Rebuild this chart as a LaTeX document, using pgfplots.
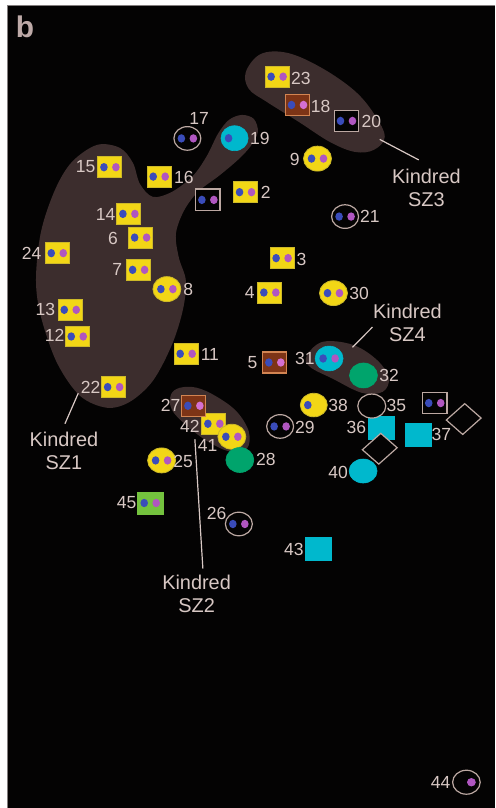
\documentclass[border=0pt]{standalone}
\usepackage{pgfplots}
\pgfplotsset{compat=1.18}
\usepackage{pgfplotstable}
\usepackage{fontspec}
\setmainfont{Liberation Sans}
\definecolor{bgk}{RGB}{4,3,3}
\definecolor{blob}{RGB}{60,45,45}
\definecolor{labc}{RGB}{216,200,196}
\definecolor{bcol}{RGB}{190,170,168}
\definecolor{yfill}{RGB}{242,214,22}
\definecolor{yborder}{RGB}{205,185,40}
\definecolor{dblue}{RGB}{58,76,186}
\definecolor{dpurple}{RGB}{176,86,192}
\definecolor{dpink}{RGB}{212,112,210}
\definecolor{brfill}{RGB}{125,52,22}
\definecolor{brborder}{RGB}{210,132,82}
\definecolor{cyanc}{RGB}{0,184,205}
\definecolor{greenc}{RGB}{0,164,108}
\definecolor{lgreen}{RGB}{116,194,62}
\definecolor{grayo}{RGB}{188,168,162}
\definecolor{framec}{RGB}{130,125,125}

\newcommand\dotpair[1]{%
 \pgfpathellipse{\pgfpoint{-3bp}{0bp}}{\pgfpoint{1.9bp}{0bp}}{\pgfpoint{0bp}{2.1bp}}%
 \pgfsetfillcolor{dblue}\pgfusepath{fill}%
 \pgfpathellipse{\pgfpoint{3bp}{0bp}}{\pgfpoint{1.9bp}{0bp}}{\pgfpoint{0bp}{2.1bp}}%
 \pgfsetfillcolor{#1}\pgfusepath{fill}}
\newcommand\rectmark[5]{% half-w, half-h, fill, stroke, linewidth
 \pgfsetlinewidth{#5}\pgfsetstrokecolor{#4}\pgfsetfillcolor{#3}%
 \pgfpathrectanglecorners{\pgfpoint{-#1}{-#2}}{\pgfpoint{#1}{#2}}%
 \pgfusepath{fill,stroke}}
\newcommand\ellmark[5]{%
 \pgfsetlinewidth{#5}\pgfsetstrokecolor{#4}\pgfsetfillcolor{#3}%
 \pgfpathellipse{\pgfpointorigin}{\pgfpoint{#1}{0bp}}{\pgfpoint{0bp}{#2}}%
 \pgfusepath{fill,stroke}}

\pgfdeclareplotmark{ysq}{\rectmark{6bp}{5.25bp}{yfill}{yborder}{0.5bp}\dotpair{dpurple}}
\pgfdeclareplotmark{yel}{\ellmark{7bp}{6.25bp}{yfill}{yborder}{0.4bp}\dotpair{dpurple}}
\pgfdeclareplotmark{yelone}{\ellmark{6.75bp}{5.9bp}{yfill}{yborder}{0.4bp}%
 \pgfpathellipse{\pgfpoint{-3bp}{0bp}}{\pgfpoint{1.9bp}{0bp}}{\pgfpoint{0bp}{2.1bp}}%
 \pgfsetfillcolor{dblue}\pgfusepath{fill}}
\pgfdeclareplotmark{brsq}{\rectmark{6bp}{5.25bp}{brfill}{brborder}{0.6bp}\dotpair{dpink}}
\pgfdeclareplotmark{bksq}{\rectmark{6.1bp}{5.4bp}{bgk}{grayo}{0.6bp}\dotpair{dpurple}}
\pgfdeclareplotmark{gel}{\ellmark{6.75bp}{5.9bp}{bgk}{grayo}{0.6bp}\dotpair{dpurple}}
\pgfdeclareplotmark{gelone}{\ellmark{6.9bp}{6bp}{bgk}{grayo}{0.6bp}%
 \pgfpathellipse{\pgfpoint{2.5bp}{0bp}}{\pgfpoint{2.2bp}{0bp}}{\pgfpoint{0bp}{2.1bp}}%
 \pgfsetfillcolor{dpurple}\pgfusepath{fill}}
\pgfdeclareplotmark{cyone}{\ellmark{6.8bp}{6.25bp}{cyanc}{cyanc}{0.3bp}%
 \pgfpathellipse{\pgfpoint{-3bp}{0bp}}{\pgfpoint{1.9bp}{0bp}}{\pgfpoint{0bp}{2.1bp}}%
 \pgfsetfillcolor{dblue}\pgfusepath{fill}}
\pgfdeclareplotmark{cytwo}{\ellmark{7bp}{6.2bp}{cyanc}{cyanc}{0.3bp}\dotpair{dpurple}}
\pgfdeclareplotmark{cyel}{\ellmark{7bp}{6bp}{cyanc}{cyanc}{0.3bp}}
\pgfdeclareplotmark{grel}{\ellmark{7bp}{6.25bp}{greenc}{greenc}{0.3bp}}
\pgfdeclareplotmark{cysq}{\rectmark{6.5bp}{5.75bp}{cyanc}{cyanc}{0.3bp}}
\pgfdeclareplotmark{bkel}{\ellmark{7bp}{6bp}{bgk}{grayo}{0.6bp}}
\pgfdeclareplotmark{grsq}{\rectmark{6.5bp}{5.5bp}{lgreen}{lgreen}{0.3bp}\dotpair{dpurple}}
\pgfdeclareplotmark{diam}{%
 \pgfsetlinewidth{0.6bp}\pgfsetstrokecolor{grayo}\pgfsetfillcolor{bgk}%
 \pgfpathmoveto{\pgfpoint{0.5bp}{7.7bp}}\pgfpathlineto{\pgfpoint{8.7bp}{0.5bp}}%
 \pgfpathlineto{\pgfpoint{-0.5bp}{-7.7bp}}\pgfpathlineto{\pgfpoint{-8.7bp}{-0.5bp}}%
 \pgfpathclose\pgfusepath{fill,stroke}}

\begin{document}
\begin{tikzpicture}
\begin{axis}[hide axis, scale only axis, x=0.5bp, y=0.5bp,
  xmin=0, xmax=495, ymin=0, ymax=808, y dir=reverse, clip=false]
% background
\fill[white] (0,0) rectangle (495,808);
\fill[bgk] (8,6) rectangle (495,808);
\draw[framec, line width=0.5bp] (495,6) -- (8,6) -- (8,808);
% kindred blobs
\fill[blob] plot[smooth cycle, tension=0.55] coordinates {
 (97,145) (120,148) (133,163) (140,184) (153,197) (172,192) (193,176) (207,156)
 (218,134) (229,120) (242,115) (254,119) (258,132) (251,146) (238,160) (219,176)
 (198,192) (184,211) (176,234) (179,258) (186,281) (183,310) (172,345) (153,381)
 (130,402) (107,408) (80,396) (57,363) (41,317) (36,280) (41,232) (55,190) (72,162)};
\fill[blob] plot[smooth cycle, tension=0.6] coordinates {
 (246,72) (261,54) (288,53) (322,68) (355,91) (375,115) (385,137) (374,150)
 (355,152) (330,142) (299,122) (267,102) (249,89)};
\fill[blob] plot[smooth cycle, tension=0.6] coordinates {
 (171,395) (180,388) (197,388) (217,397) (237,412) (249,432) (247,449) (231,452)
 (210,443) (188,427) (172,410)};
\fill[blob] plot[smooth cycle, tension=0.6] coordinates {
 (307,356) (323,342) (353,345) (377,360) (389,378) (383,392) (362,393) (333,379) (310,367)};
% leader lines
\addplot[labc, line width=0.6bp] coordinates {(78.3,393.5) (65,424)};
\addplot[labc, line width=0.6bp] coordinates {(195,439.5) (203,569)};
\addplot[labc, line width=0.6bp] coordinates {(380,139.5) (419,160)};
\addplot[labc, line width=0.6bp] coordinates {(352.7,347.5) (372.7,327.3)};
% markers
\addplot[only marks, mark=ysq] table {
x y
110 167.3
159.3 176.7
129 214
140.7 237.7
57.3 253.3
138.7 270
70.3 310
77.3 336.7
186.3 354
113.7 387.3
245.7 192.3
277.3 76.7
282.3 258.3
270 292.7
214 424
};
\addplot[only marks, mark=yel] table {
x y
167 289.3
317.7 158.7
333.7 293.3
232 437
161.7 460.7
};
\addplot[only marks, mark=yelone] table {
x y
314 405.3
};
\addplot[only marks, mark=brsq] table {
x y
297.7 105
275 362.7
194 406
};
\addplot[only marks, mark=bksq] table {
x y
346.7 121
208 200
435 403.3
};
\addplot[only marks, mark=gel] table {
x y
187.5 138.5
345.3 216.7
280.3 426.7
239 524.3
};
\addplot[only marks, mark=gelone] table {
x y
466.7 782.7
};
\addplot[only marks, mark=cyone] table {
x y
234.7 138.3
};
\addplot[only marks, mark=cytwo] table {
x y
329.3 358.7
};
\addplot[only marks, mark=cyel] table {
x y
363.3 471.3
};
\addplot[only marks, mark=grel] table {
x y
363.7 375.7
240 460.3
};
\addplot[only marks, mark=cysq] table {
x y
381.3 428
418.3 435
318.3 549.3
};
\addplot[only marks, mark=diam] table {
x y
464 419.3
380 449
};
\addplot[only marks, mark=bkel] table {
x y
372 406.3
};
\addplot[only marks, mark=grsq] table {
x y
150.3 503.3
};
% numeric labels
\addplot[only marks, mark=none, point meta=explicit symbolic, nodes near coords,
  every node near coord/.append style={anchor=center, inner sep=0pt, text=labc,
  font=\fontsize{8.8}{9}\selectfont}] table[meta=lab] {
x y lab
85.7 167 15
184 178 16
105.7 214.3 14
113 239 6
31.7 254 24
117.3 270 7
188.3 289.3 8
45.3 310 13
54.7 336 12
210 355 11
90.7 387.3 22
170.7 405.7 27
199.3 119 17
260 139 19
266 192.3 2
301 78.3 23
320.7 106.7 18
371.7 121.7 20
295 160 9
370 216.7 21
301.7 259.3 3
250 292.7 4
359.3 293.3 30
252.7 362.7 5
305 358.3 31
389.3 375.7 32
338.3 405.3 38
396.7 405.7 35
190 426.7 42
207.7 445.7 41
305 427.3 29
356.7 427.7 36
441.7 434.3 37
266 459.3 28
338.3 472.7 40
183.3 461.7 25
126.7 503.3 45
216.7 514 26
294 550 43
441 783.3 44
};
% kindred labels
\node[align=center, text=labc, inner sep=0pt, font=\fontsize{10}{11.5}\selectfont] at (64,451) {Kindred\\SZ1};
\node[align=center, text=labc, inner sep=0pt, font=\fontsize{10}{11.5}\selectfont] at (196.7,594) {Kindred\\SZ2};
\node[align=center, text=labc, inner sep=0pt, font=\fontsize{10}{11.5}\selectfont] at (426.7,188) {Kindred\\SZ3};
\node[align=center, text=labc, inner sep=0pt, font=\fontsize{10}{11.5}\selectfont] at (407.7,323.5) {Kindred\\SZ4};
\node[text=bcol, inner sep=0pt, font=\bfseries\fontsize{15}{15}\selectfont] at (25,27) {b};
\end{axis}
\end{tikzpicture}
\end{document}
